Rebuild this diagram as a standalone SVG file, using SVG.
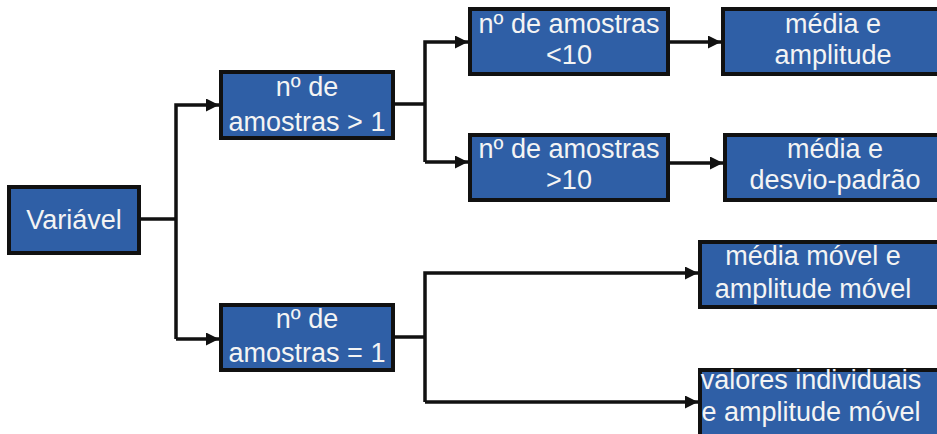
<svg xmlns="http://www.w3.org/2000/svg" width="937" height="434" viewBox="0 0 937 434">
<style>
.box{fill:#2f5fa6;stroke:#111;stroke-width:4}
.t{font-family:"Liberation Sans",Arial,sans-serif;font-size:27px;fill:#f4f4f4;text-anchor:middle}
.c{fill:none;stroke:#111;stroke-width:3.5}
</style>
<defs>
<marker id="ah" viewBox="0 0 10 10" refX="10" refY="5" markerWidth="17" markerHeight="13" markerUnits="userSpaceOnUse" orient="auto">
<path d="M0,0 L10,5 L0,10 z" fill="#111"/>
</marker>
</defs>
<rect width="937" height="434" fill="#fff"/>
<g id="connectors">
<path class="c" d="M139,219 H176"/>
<path class="c" d="M176,339 V105 H219" marker-end="url(#ah)"/>
<path class="c" d="M176,339 H219" marker-end="url(#ah)"/>
<path class="c" d="M393,104 H425"/>
<path class="c" d="M425,162 V42 H468" marker-end="url(#ah)"/>
<path class="c" d="M425,162 H468" marker-end="url(#ah)"/>
<path class="c" d="M668,42 H721" marker-end="url(#ah)"/>
<path class="c" d="M668,163 H723" marker-end="url(#ah)"/>
<path class="c" d="M393,337 H425"/>
<path class="c" d="M425,402 V273 H698" marker-end="url(#ah)"/>
<path class="c" d="M425,402 H698" marker-end="url(#ah)"/>
</g>
<g id="variavel">
<rect class="box" x="9" y="187" width="130" height="66"/>
<text class="t" x="74" y="229">Variável</text>
</g>
<g id="amostras-maior-1">
<rect class="box" x="221" y="72" width="172" height="66"/>
<text class="t" x="307" y="96">nº de</text>
<text class="t" x="307" y="131">amostras &gt; 1</text>
</g>
<g id="amostras-igual-1">
<rect class="box" x="221" y="305" width="172" height="65"/>
<text class="t" x="307" y="328">nº de</text>
<text class="t" x="307" y="362">amostras = 1</text>
</g>
<g id="amostras-menor-10">
<rect class="box" x="470" y="9" width="198" height="65"/>
<text class="t" x="569" y="33">nº de amostras</text>
<text class="t" x="569" y="64">&lt;10</text>
</g>
<g id="amostras-maior-10">
<rect class="box" x="470" y="135" width="198" height="65"/>
<text class="t" x="569" y="158">nº de amostras</text>
<text class="t" x="569" y="189">&gt;10</text>
</g>
<g id="media-amplitude">
<rect class="box" x="723" y="9" width="222" height="65"/>
<text class="t" x="833" y="33">média e</text>
<text class="t" x="833" y="64">amplitude</text>
</g>
<g id="media-desvio">
<rect class="box" x="725" y="135" width="220" height="65"/>
<text class="t" x="835" y="158">média e</text>
<text class="t" x="835" y="189">desvio-padrão</text>
</g>
<g id="media-movel">
<rect class="box" x="700" y="242" width="245" height="65"/>
<text class="t" x="813" y="265">média móvel e</text>
<text class="t" x="813" y="298">amplitude móvel</text>
</g>
<g id="valores-individuais">
<rect class="box" x="700" y="370" width="245" height="70"/>
<text class="t" x="811" y="389">valores individuais</text>
<text class="t" x="811" y="421">e amplitude móvel</text>
</g>
</svg>
